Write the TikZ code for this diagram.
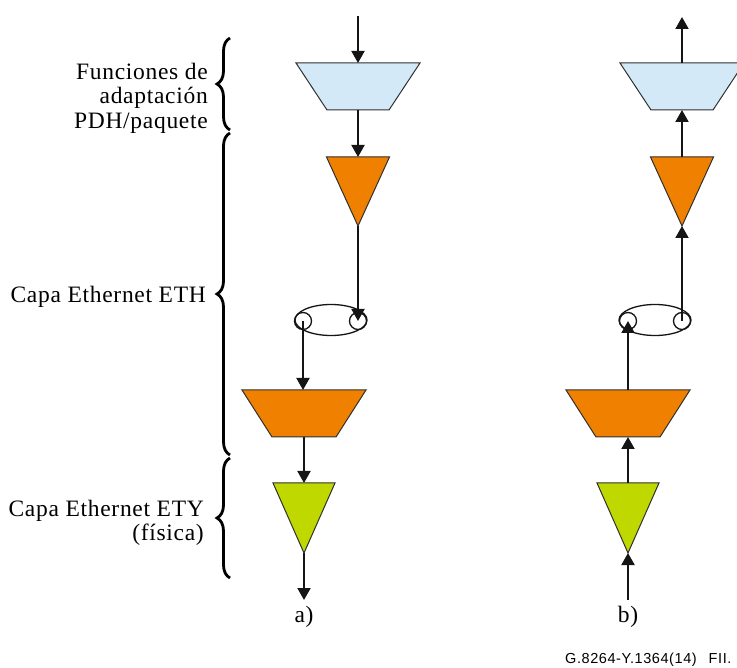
\documentclass[tikz,border=0pt]{standalone}
\usepackage{fontspec}
\setmainfont{Liberation Serif}
\newfontfamily\sideserif[LetterSpace=3]{Liberation Serif}
\newfontfamily\labelsans[LetterSpace=4]{Liberation Sans}
\usetikzlibrary{arrows.meta,decorations.pathreplacing,shapes.geometric}

\definecolor{adaptblue}{HTML}{D4E9F7}
\definecolor{ethorange}{HTML}{F08000}
\definecolor{etygreen}{HTML}{BED800}
\definecolor{edgegray}{HTML}{303030}
\definecolor{flowblack}{HTML}{151515}

\tikzset{
  slot/.style 2 args={draw=none, inner sep=0pt, outer sep=0pt,
    minimum width=#1pt, minimum height=#2pt},
  blockedge/.style={draw=edgegray, line width=1pt, line join=miter},
  flow/.style={line width=2pt, draw=flowblack,
    -{Triangle[width=13pt,length=12pt]}},
  ring/.style={circle, draw=flowblack, line width=1.3pt,
    minimum size=17pt, inner sep=0pt},
  port/.style={ellipse, draw=flowblack, line width=1.3pt,
    minimum width=72pt, minimum height=31pt, inner sep=0pt},
  layerbrace/.style={decorate, decoration={brace, amplitude=13pt},
    line width=2.8pt},
  sidetext/.style={font=\sideserif\fontsize{23.5}{24.5}\selectfont,
    align=right, anchor=east, inner sep=0pt},
  tag/.style={font=\sideserif\fontsize{23.5}{24.5}\selectfont, inner sep=0pt},
}

% inverted trapezoid over a named slot node: #1 node, #2 fill, #3 inset of the short side
\newcommand\invtrap[3]{%
  \filldraw[blockedge, fill=#2] (#1.north west) -- (#1.north east)
    -- ([xshift=-#3pt]#1.south east) -- ([xshift=#3pt]#1.south west) -- cycle;}
% downward triangle over a named slot node
\newcommand\downtri[2]{%
  \filldraw[blockedge, fill=#2] (#1.north west) -- (#1.north east)
    -- (#1.south) -- cycle;}

\begin{document}
\begin{tikzpicture}[x=1pt, y=-1pt]
\useasboundingbox (0,0) rectangle (737,668);

% ---------- side labels and braces ----------
\node[sidetext] (lblpdh) at (208,98) {Funciones de\\adaptación\\PDH/paquete};
\node[sidetext] (lbleth) at (206,297) {Capa Ethernet ETH};
\node[sidetext] (lblety) at (204,523) {Capa Ethernet ETY\\(física)};

\coordinate (br1top) at (230,38);
\coordinate (br1bot) at (230,130);
\coordinate (br2top) at (230,133);
\coordinate (br2bot) at (230,455);
\coordinate (br3top) at (230,458);
\coordinate (br3bot) at (230,578);
\draw[layerbrace] (br1bot) -- (br1top);
\draw[layerbrace] (br2bot) -- (br2top);
\draw[layerbrace] (br3bot) -- (br3top);

% ---------- column a) ----------
\node[slot={124}{47}] (ta) at (358,86.5) {};
\node[slot={63}{69}]  (oa) at (358,191.5) {};
\node[slot={124}{47}] (pa) at (304,413.5) {};
\node[slot={62}{70}]  (ga) at (304,518) {};
\invtrap{ta}{adaptblue}{31}
\downtri{oa}{ethorange}
\invtrap{pa}{ethorange}{30}
\downtri{ga}{etygreen}

\node[port] (ea) at (331,320) {};
\node[ring] (al) at (303,321) {};
\node[ring] (ar) at (358,321) {};

\coordinate (ina) at (358,16);
\coordinate (outa) at (304,600);
\draw[flow] (ina) -- (ta.north);
\draw[flow] (ta.south) -- (oa.north);
\draw[flow] (oa.south) -- (ar.center);
\draw[flow] (al.center) -- (al.center |- pa.north);
\draw[flow] (pa.south) -- (ga.north);
\draw[flow] (ga.south) -- (outa);
\node[tag] (taga) at (304,617) {a)};

% ---------- column b) ----------
\node[slot={124}{47}] (tb) at (682,86.5) {};
\node[slot={63}{69}]  (ob) at (682,191.5) {};
\node[slot={124}{47}] (pb) at (628,413.5) {};
\node[slot={62}{70}]  (gb) at (628,518) {};
\invtrap{tb}{adaptblue}{31}
\downtri{ob}{ethorange}
\invtrap{pb}{ethorange}{30}
\downtri{gb}{etygreen}

\node[port] (eb) at (655,320) {};
\node[ring] (bl) at (628,321) {};
\node[ring] (brr) at (682,321) {};

\coordinate (outb) at (682,17);
\coordinate (inb) at (628,600);
\draw[flow] (tb.north) -- (outb);
\draw[flow] (ob.north) -- (tb.south);
\draw[flow] (brr.center) -- (ob.south);
\draw[flow] (bl.center |- pb.north) -- (bl.center);
\draw[flow] (gb.north) -- (pb.south);
\draw[flow] (inb) -- (gb.south);
\node[tag] (tagb) at (628,617) {b)};

% ---------- figure reference ----------
\node[font=\labelsans\fontsize{14.5}{16}\selectfont, anchor=base west,
  inner sep=0pt] (figref) at (565,663) {G.8264-Y.1364(14)\hspace{12pt}FII.};
\end{tikzpicture}
\end{document}
